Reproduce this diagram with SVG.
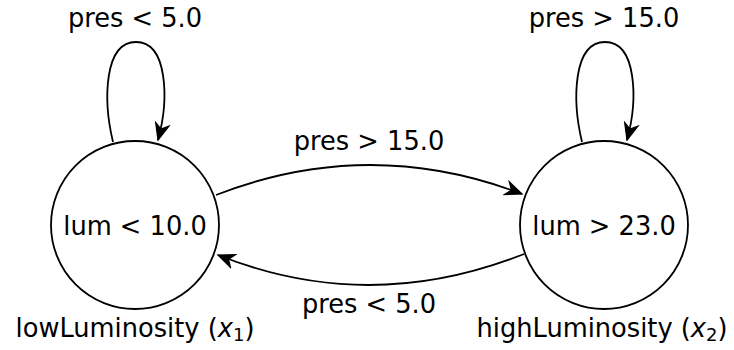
<svg xmlns="http://www.w3.org/2000/svg" width="734" height="350" viewBox="0 0 734 350">
<style>
text{font-family:"DejaVu Sans","Liberation Sans",sans-serif;font-size:25.7px;fill:#000;text-anchor:middle}
.node circle{fill:#fff;stroke:#000;stroke-width:1.8}
.edge{fill:none;stroke:#000;stroke-width:1.8;marker-end:url(#arr)}
.m{font-style:italic}
.sub{font-size:18px}
</style>
<defs>
<marker id="arr" markerUnits="userSpaceOnUse" markerWidth="20" markerHeight="20" viewBox="-14 -7 16 14" refX="0" refY="0" orient="auto">
<path d="M0,0 L-13,-5.5 L-9,0 L-13,5.5 Z" fill="#000" stroke="#000" stroke-width="1" stroke-linejoin="miter"/>
</marker>
</defs>
<rect width="734" height="350" fill="#fff"/>
<g id="connectors">
<path class="edge" d="M113,142 C103,100 104,42 136,42 C168,42 169,100 158,140"/>
<path class="edge" d="M582,142 C572,100 573,42 605,42 C637,42 638,100 627,140"/>
<path class="edge" d="M216,195 Q369,135.5 522,194"/>
<path class="edge" d="M524,254 Q369,315.5 218,255"/>
<text x="135" y="27">pres &lt; 5.0</text>
<text x="604" y="27">pres &gt; 15.0</text>
<text x="369" y="150">pres &gt; 15.0</text>
<text x="369" y="313">pres &lt; 5.0</text>
</g>
<g id="lowLuminosity" class="node">
<circle cx="135" cy="225" r="84"/>
<text x="135" y="235">lum &lt; 10.0</text>
<text x="135" y="337">lowLuminosity (<tspan class="m">x</tspan><tspan class="sub" dy="4">1</tspan><tspan dy="-4">)</tspan></text>
</g>
<g id="highLuminosity" class="node">
<circle cx="604" cy="225" r="84"/>
<text x="604" y="235">lum &gt; 23.0</text>
<text x="602" y="337">highLuminosity (<tspan class="m">x</tspan><tspan class="sub" dy="4">2</tspan><tspan dy="-4">)</tspan></text>
</g>
</svg>
